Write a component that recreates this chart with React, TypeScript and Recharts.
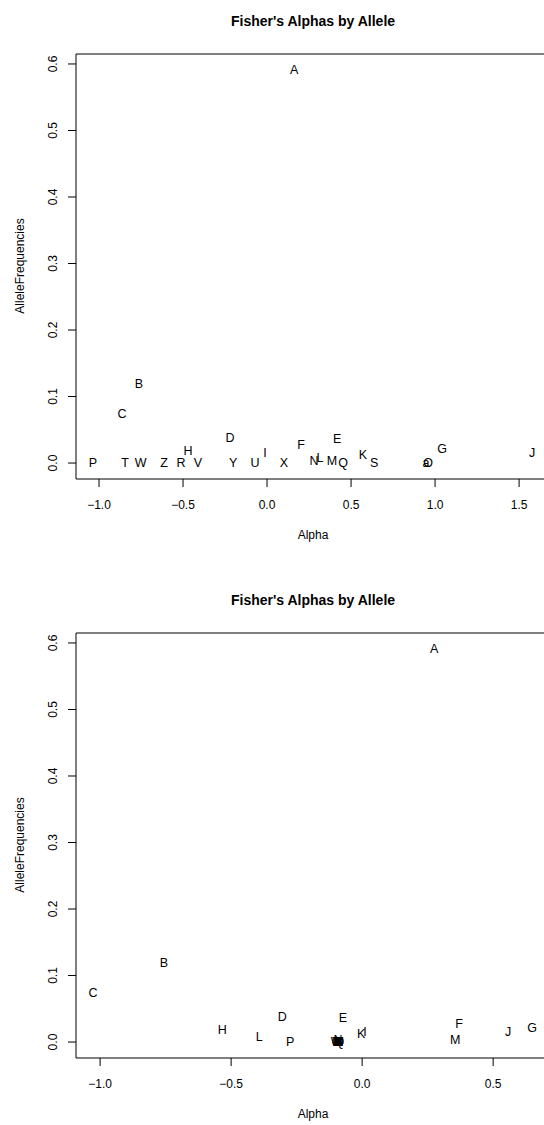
import React from "react";
import { ScatterChart, Scatter, XAxis, YAxis, ReferenceArea } from "recharts";

const font = "'Liberation Sans', Arial, Helvetica, sans-serif";

const alleles = ["A", "B", "C", "D", "E", "F", "G", "H", "I", "J", "K", "L", "M", "N", "O", "P", "Q", "R", "S", "T", "U", "V", "W", "X", "Y", "Z", "a"];
const freqs = [0.591, 0.12, 0.075, 0.038, 0.036, 0.027, 0.021, 0.018, 0.016, 0.015, 0.012, 0.008, 0.003, 0.003, 0, 0, 0, 0, 0, 0, 0, 0, 0, 0, 0, 0, 0];

// top panel
const alphaTop = [0.161, -0.762, -0.863, -0.22, 0.417, 0.202, 1.042, -0.47, -0.012, 1.577, 0.571, 0.315, 0.387, 0.28, 0.958, -1.036, 0.452, -0.512, 0.637, -0.845, -0.071, -0.411, -0.752, 0.101, -0.202, -0.613, 0.946];
// bottom panel
const alphaBottom = [0.275, -0.756, -1.027, -0.305, -0.073, 0.37, 0.649, -0.534, 0.011, 0.557, -0.004, -0.393, 0.355, -0.092, -0.097, -0.275, -0.087, -0.095, -0.089, -0.099, -0.086, -0.092, -0.097, -0.088, -0.094, -0.09, -0.092];

const xTicksTop = [-1, -0.5, 0, 0.5, 1, 1.5];
const xTicksBottom = [-1, -0.5, 0, 0.5];
const yTicks = [0, 0.1, 0.2, 0.3, 0.4, 0.5, 0.6];
const yDomain: [number, number] = [-0.024, 0.615];

const fmt = (v: number) => (v < 0 ? "\u2212" + Math.abs(v).toFixed(1) : v.toFixed(1));

const YTick = (props: any) => {
  const { x, y, payload } = props;
  return (
    <text x={x} y={y} transform={`rotate(-90 ${x} ${y})`} textAnchor="middle" fontSize={12} fill="#000" fontFamily={font}>
      {payload.value.toFixed(1)}
    </text>
  );
};

const LabelShape = (props: any) => (
  <text x={props.cx} y={props.cy} dy="0.35em" textAnchor="middle" fontSize={12.5} fontFamily={font} fill="#000">
    {props.payload.label}
  </text>
);

function AlphaPanel({ top, alpha, xDomain, xTicks }: { top: number; alpha: number[]; xDomain: [number, number]; xTicks: number[] }) {
  const data = alleles.map((a, i) => ({ label: a, alpha: alpha[i], freq: freqs[i] }));
  return (
    <div style={{ position: "absolute", left: 0, top, width: 560, height: 579 }}>
      <ScatterChart width={560} height={579} margin={{ top: 54, right: 10, bottom: 0, left: 0 }}>
        <XAxis
          type="number"
          dataKey="alpha"
          domain={xDomain}
          ticks={xTicks}
          tickFormatter={fmt}
          axisLine={false}
          tickSize={8}
          tickMargin={13}
          height={100}
          tick={{ fill: "#000", fontSize: 12, fontFamily: font }}
          tickLine={{ stroke: "#000" }}
        />
        <YAxis
          type="number"
          dataKey="freq"
          domain={yDomain}
          ticks={yTicks}
          width={76}
          axisLine={false}
          tickSize={8}
          tickMargin={11}
          tick={<YTick />}
          tickLine={{ stroke: "#000" }}
        />
        <ReferenceArea x1={xDomain[0]} x2={xDomain[1]} y1={yDomain[0]} y2={yDomain[1]} fill="none" stroke="#000" strokeOpacity={1} />
        <Scatter data={data} shape={LabelShape} isAnimationActive={false} />
      </ScatterChart>
      <svg width={560} height={579} style={{ position: "absolute", left: 0, top: 0, pointerEvents: "none" }}>
        <text x={313} y={21} dy="0.35em" textAnchor="middle" fontSize={14} fontWeight="bold" fontFamily={font} fill="#000">
          Fisher's Alphas by Allele
        </text>
        <text x={313} y={535} dy="0.35em" textAnchor="middle" fontSize={12} fontFamily={font} fill="#000">
          Alpha
        </text>
        <text x={20} y={266} dy="0.35em" transform="rotate(-90 20 266)" textAnchor="middle" fontSize={12} fontFamily={font} fill="#000">
          AlleleFrequencies
        </text>
      </svg>
    </div>
  );
}

export default function App() {
  return (
    <div style={{ position: "absolute", left: 0, top: 0, width: 544, height: 1125, overflow: "hidden", background: "#fff" }}>
      <AlphaPanel top={0} alpha={alphaTop} xDomain={[-1.137, 1.684]} xTicks={xTicksTop} />
      <AlphaPanel top={579} alpha={alphaBottom} xDomain={[-1.092, 0.717]} xTicks={xTicksBottom} />
    </div>
  );
}
